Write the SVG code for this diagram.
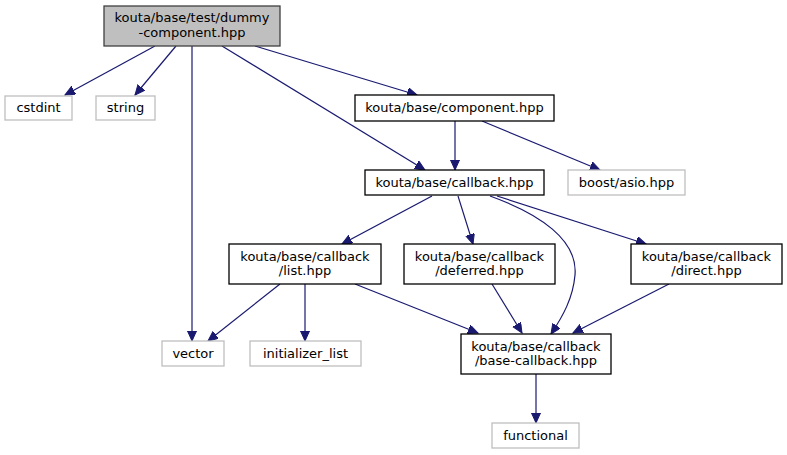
<svg xmlns="http://www.w3.org/2000/svg" width="787" height="455" viewBox="0 0 787 455">
<style>
text{font-family:"DejaVu Sans","Liberation Sans",sans-serif;font-size:13px;fill:#000;text-anchor:middle}
.n rect{fill:#fff;stroke:#000;stroke-width:1.3}
.x rect{fill:#fff;stroke:#bfbfbf;stroke-width:1.3}
.root rect{fill:#bfbfbf;stroke:#404040;stroke-width:1.3}
#edges path{fill:none;stroke:#191970;stroke-width:1.2;marker-end:url(#ah)}
</style>
<defs>
<marker id="ah" markerUnits="userSpaceOnUse" markerWidth="11" markerHeight="10" refX="10" refY="4.5" orient="auto">
<path d="M0,0 L10,4.5 L0,9 z" fill="#191970" stroke="#191970" stroke-width="1"/>
</marker>
</defs>
<rect width="787" height="455" fill="#fff"/>
<g id="edges">
<path d="M155,46 L65,95"/>
<path d="M176,46 L135,95"/>
<path d="M192,46 L192,341"/>
<path d="M222,46 L425,170"/>
<path d="M255,46 L417,95"/>
<path d="M455,121 L455,170"/>
<path d="M482,121 L600,170"/>
<path d="M432,196 L342,244"/>
<path d="M458,196 L473,244"/>
<path d="M490,196 C540,214 578,240 575,275 C573,298 563,316 551,334"/>
<path d="M497,196 L646,244"/>
<path d="M280,284 L208,341"/>
<path d="M305,284 L305,341"/>
<path d="M355,284 L478,333"/>
<path d="M492,284 L522,333"/>
<path d="M669,284 L573,333"/>
<path d="M536,374 L536,423"/>
</g>
<g id="main" class="root"><rect x="104" y="6" width="176" height="40"/><text x="192" y="22">kouta/base/test/dummy</text><text x="192" y="36.5">-component.hpp</text></g>
<g id="cstdint" class="x"><rect x="5" y="96" width="67" height="24"/><text x="38.5" y="112">cstdint</text></g>
<g id="string" class="x"><rect x="96" y="96" width="59" height="24"/><text x="125.5" y="112">string</text></g>
<g id="component" class="n"><rect x="355" y="95" width="199" height="26"/><text x="454.5" y="112">kouta/base/component.hpp</text></g>
<g id="callback" class="n"><rect x="365" y="170" width="179" height="25"/><text x="454.5" y="186.5">kouta/base/callback.hpp</text></g>
<g id="boost" class="x"><rect x="568" y="170" width="117" height="25"/><text x="626.5" y="186.5">boost/asio.hpp</text></g>
<g id="list" class="n"><rect x="229" y="244" width="152" height="40"/><text x="305" y="260.5">kouta/base/callback</text><text x="305" y="275">/list.hpp</text></g>
<g id="deferred" class="n"><rect x="404" y="244" width="151" height="40"/><text x="479.5" y="260.5">kouta/base/callback</text><text x="479.5" y="275">/deferred.hpp</text></g>
<g id="direct" class="n"><rect x="631" y="244" width="151" height="40"/><text x="706.5" y="260.5">kouta/base/callback</text><text x="706.5" y="275">/direct.hpp</text></g>
<g id="basecb" class="n"><rect x="461" y="334" width="150" height="40"/><text x="536" y="350.5">kouta/base/callback</text><text x="536" y="365">/base-callback.hpp</text></g>
<g id="vector" class="x"><rect x="162" y="341" width="62" height="25"/><text x="193" y="357.5">vector</text></g>
<g id="initlist" class="x"><rect x="250" y="341" width="111" height="25"/><text x="305.5" y="357.5">initializer_list</text></g>
<g id="functional" class="x"><rect x="492" y="423" width="87" height="25"/><text x="535.5" y="439.5">functional</text></g>
</svg>
